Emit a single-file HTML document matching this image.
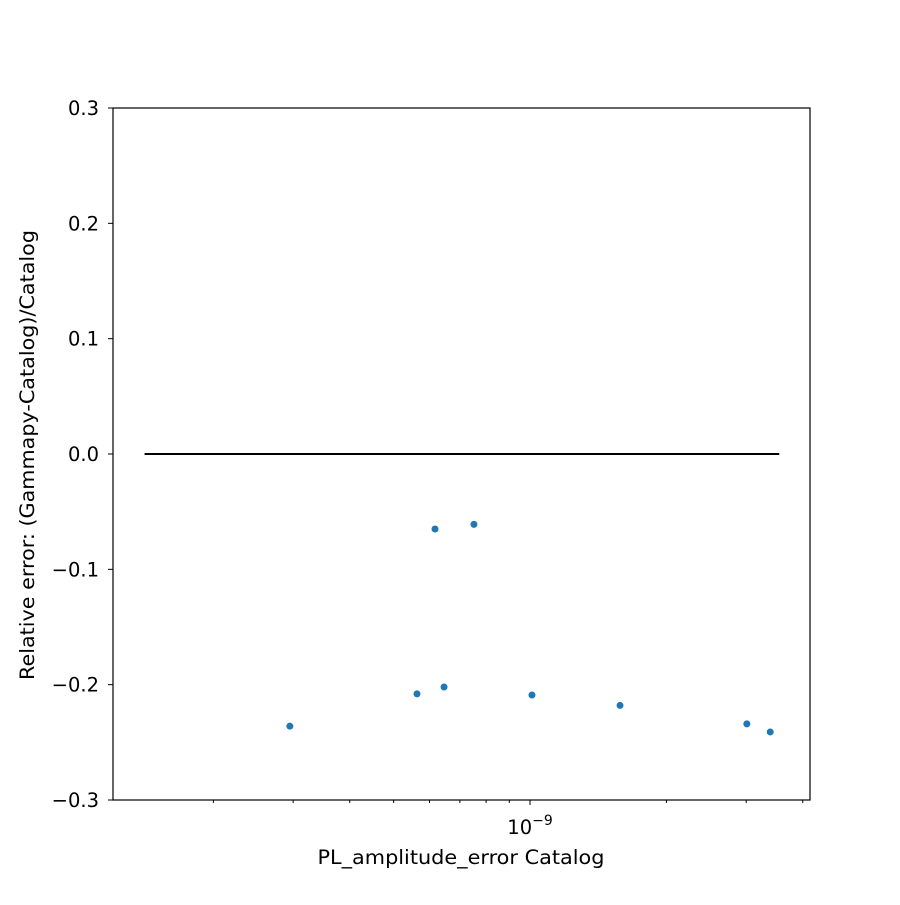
<!DOCTYPE html>
<html><head><meta charset="utf-8"><style>body{margin:0;background:#fff}svg{font-family:"DejaVu Sans","Liberation Sans",sans-serif}</style></head>
<body>
<svg id="chart" width="900" height="900"></svg>
<script>
const xValues=[2.95e-10,5.63e-10,6.17e-10,6.46e-10,7.52e-10,1.01e-9,1.58e-9,3.01e-9,3.39e-9];
const yValues=[-0.236,-0.208,-0.065,-0.202,-0.061,-0.209,-0.218,-0.234,-0.241];
const yTicks=[-0.3,-0.2,-0.1,0.0,0.1,0.2,0.3];
const yTickLabels=["\u22120.3","\u22120.2","\u22120.1","0.0","0.1","0.2","0.3"];
const refLine=[1.41e-10,3.55e-9];
const L=113,R=810,T=108,B=800;
const xMinLog=-9.9205,xMaxLog=-8.382;
function xs(v){return L+(Math.log10(v)-xMinLog)/(xMaxLog-xMinLog)*(R-L);}
function ys(v){return B-(v+0.3)/0.6*(B-T);}
const svg=document.getElementById('chart');const NS='http://www.w3.org/2000/svg';
function mk(t,a,p){const e=document.createElementNS(NS,t);for(const k in a)e.setAttribute(k,a[k]);(p||svg).appendChild(e);return e;}
let ln=mk('line',{x1:xs(refLine[0]),x2:xs(refLine[1]),y1:ys(0),y2:ys(0),stroke:'#000','stroke-width':2});


xValues.forEach((x,i)=>{const c=mk('circle',{cx:xs(x),cy:ys(yValues[i]),r:3.5,fill:'#1f77b4'});

});
const fr=mk('rect',{x:L,y:T,width:R-L,height:B-T,fill:'none',stroke:'#000','stroke-width':1.2});


yTicks.forEach((v,i)=>{const y=ys(v);mk('line',{x1:L-5,x2:L,y1:y,y2:y,stroke:'#000'});
const t=mk('text',{x:L-14,y:y+7,'text-anchor':'end','font-size':19.5});t.textContent=yTickLabels[i];

});
for(let d=-10;d<=-9;d++)for(let m=1;m<10;m++){const v=m*Math.pow(10,d);const lg=Math.log10(v);if(lg<xMinLog||lg>xMaxLog)continue;const x=xs(v);mk('line',{x1:x,x2:x,y1:B,y2:B+(m===1?5:3),stroke:'#000'});}
const xl=mk('text',{x:xs(1e-9),y:834,'text-anchor':'middle','font-size':19.5});xl.innerHTML='10<tspan dy="-9" font-size="14">\u22129</tspan>';


const xt=mk('text',{x:461,y:864,'text-anchor':'middle','font-size':19.5,textLength:287,lengthAdjust:'spacingAndGlyphs'});xt.textContent='PL_amplitude_error Catalog';


const yt=mk('text',{x:34,y:455,'text-anchor':'middle','font-size':19.5,textLength:450,lengthAdjust:'spacingAndGlyphs',transform:'rotate(-90 34 455)'});yt.textContent='Relative error: (Gammapy-Catalog)/Catalog';


</script>
</body></html>
